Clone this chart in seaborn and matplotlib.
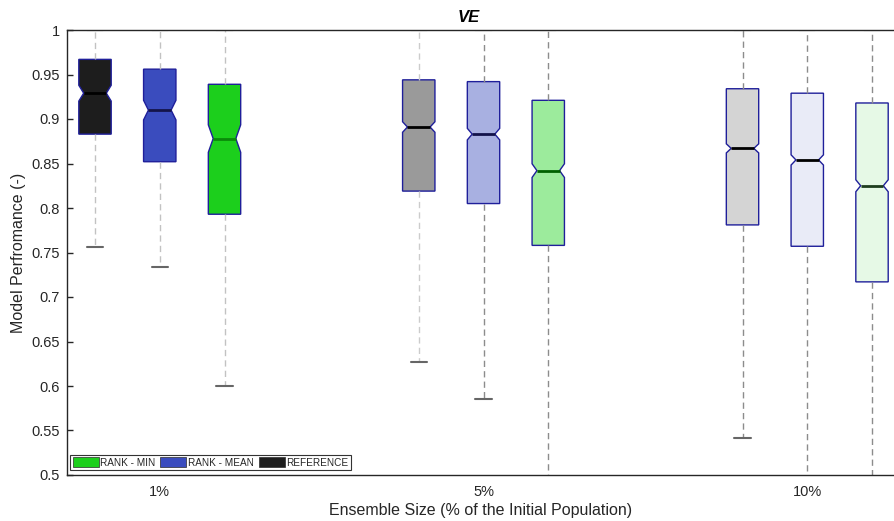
import numpy as np
import pandas as pd
import seaborn as sns
import matplotlib
matplotlib.use("Agg")
import matplotlib.pyplot as plt
from matplotlib.patches import Patch

# ---------------- data ----------------
groups = ["1%", "5%", "10%"]
methods = ["REFERENCE", "RANK - MEAN", "RANK - MIN"]
n_members = [220, 1100, 2200]          # ensemble sizes (drive notch widths)

ref_lo = [0.756, 0.627, 0.542]
ref_q1 = [0.883, 0.819, 0.781]
ref_med = [0.929, 0.891, 0.867]
ref_q3 = [0.967, 0.944, 0.934]
ref_hi = [1.0, 1.0, 1.0]

mean_lo = [0.734, 0.585, 0.45]
mean_q1 = [0.852, 0.805, 0.757]
mean_med = [0.910, 0.883, 0.854]
mean_q3 = [0.956, 0.942, 0.929]
mean_hi = [1.0, 1.0, 1.0]

min_lo = [0.600, 0.45, 0.45]
min_q1 = [0.793, 0.758, 0.717]
min_med = [0.878, 0.842, 0.825]
min_q3 = [0.939, 0.921, 0.918]
min_hi = [1.0, 1.0, 1.0]

y_ticks = [0.5, 0.55, 0.6, 0.65, 0.7, 0.75, 0.8, 0.85, 0.9, 0.95, 1.0]
y_tick_labels = ["0.5", "0.55", "0.6", "0.65", "0.7", "0.75", "0.8", "0.85", "0.9", "0.95", "1"]

# ---------------- styles ----------------
fills = {
    "REFERENCE": ["#1d1d1d", "#9a9a9a", "#d4d4d4"],
    "RANK - MEAN": ["#3a4cbe", "#a8b0e1", "#e9ebf7"],
    "RANK - MIN": ["#1ccf1c", "#9ceb9c", "#e6f9e6"],
}
med_colors = {
    "REFERENCE": ["#000000", "#000000", "#000000"],
    "RANK - MEAN": ["#14144a", "#12124a", "#000000"],
    "RANK - MIN": ["#0a8a0a", "#006000", "#1e3e1e"],
}
whisk_colors = {
    "REFERENCE": ["#c2c2c2", "#cccccc", "#8c8c8c"],
    "RANK - MEAN": ["#c2c2c2", "#8c8c8c", "#8c8c8c"],
    "RANK - MIN": ["#c2c2c2", "#8c8c8c", "#8c8c8c"],
}
edge_color = "#1f1f9a"

stats = {
    "REFERENCE": (ref_lo, ref_q1, ref_med, ref_q3, ref_hi),
    "RANK - MEAN": (mean_lo, mean_q1, mean_med, mean_q3, mean_hi),
    "RANK - MIN": (min_lo, min_q1, min_med, min_q3, min_hi),
}

# build per-box samples that reproduce the read five-number summaries
rows = []
for m in methods:
    lo, q1, md, q3, hi = stats[m]
    for gi, g in enumerate(groups):
        n = n_members[gi]
        k = (n - 2) // 3
        mid = n - 2 - 2 * k
        vals = [lo[gi]] + [q1[gi]] * k + [md[gi]] * mid + [q3[gi]] * k + [hi[gi]]
        rows += [(g, m, v) for v in vals]
df = pd.DataFrame(rows, columns=["group", "method", "value"])

sns.set_theme(style="white")
plt.rcParams["font.family"] = ["Liberation Sans", "DejaVu Sans"]

fig = plt.figure(figsize=(8.95, 5.21), dpi=100)
ax = fig.add_axes([67 / 895, 46 / 521, 828 / 895, 445 / 521])

box_w = 0.1
inset = 0.15 * box_w
for gi, g in enumerate(groups):
    for hi_idx, m in enumerate(methods):
        sub = df[(df.group == g) & (df.method == m)]
        nl = len(ax.lines)
        sns.boxplot(data=sub, x="group", y="value", hue="method",
                    order=groups, hue_order=methods,
                    palette={k: fills[m][gi] for k in methods},
                    saturation=1, dodge=True, width=0.6, gap=0.5,
                    whis=(0, 100), showfliers=False, shownotches=True,
                    linecolor=edge_color, linewidth=1.0, legend=False, ax=ax)
        pos = gi + (hi_idx - 1) * 0.2
        L, R = pos - box_w / 2, pos + box_w / 2
        patch = ax.patches[-1]
        verts = patch.get_path().vertices
        pattern = [L, R, R, R - inset, R, R, L, L, L + inset, L, L]
        xs = pattern + [L] * (len(verts) - len(pattern))
        verts[:, 0] = xs[:len(verts)]
        patch.set_edgecolor(edge_color)
        patch.set_linewidth(1.0)
        md = stats[m][2][gi]
        for ln in ax.lines[nl:]:
            xd = np.asarray(ln.get_xdata(), float)
            yd = np.asarray(ln.get_ydata(), float)
            if np.isclose(yd[0], yd[-1]) and not np.isclose(yd[0], stats[m][0][gi]) \
                    and not np.isclose(yd[0], stats[m][4][gi]) and np.isclose(yd[0], md):
                ln.set_xdata([L + inset, R - inset])
                ln.set_color(med_colors[m][gi])
                ln.set_linewidth(2.0)
                ln.set_solid_capstyle("butt")
            elif np.isclose(xd[0], xd[-1]) and not np.isclose(yd[0], yd[-1]):
                ln.set_xdata([pos, pos])
                ln.set_color(whisk_colors[m][gi])
                ln.set_linestyle((0, (4.5, 3)))
                ln.set_linewidth(1.0)
            else:
                ln.set_xdata([pos - 0.025, pos + 0.025])
                ln.set_color("#666666")
                ln.set_linewidth(1.5)

ax.set_xlim(-0.2865, 2.271)
ax.set_ylim(0.5, 1.0)
ax.set_yticks(y_ticks)
ax.set_yticklabels(y_tick_labels)
ax.set_xticks([0, 1, 2])
ax.set_xticklabels(groups)
ax.tick_params(axis="y", direction="in", length=4, width=1, colors="#262626",
               labelsize=10.5, pad=5, left=True)
ax.tick_params(axis="x", length=0, colors="#262626", labelsize=10.5, pad=7)

for side in ["left", "bottom", "top"]:
    ax.spines[side].set_visible(True)
    ax.spines[side].set_color("#262626")
    ax.spines[side].set_linewidth(1.0)
ax.spines["right"].set_visible(False)

ax.set_xlabel("Ensemble Size (% of the Initial Population)", fontsize=11.5,
              color="#262626", labelpad=3)
ax.set_ylabel("Model Perfromance (-)", fontsize=11.5, color="#262626", labelpad=4)
ax.set_title("VE", fontsize=12, fontweight="bold", fontstyle="italic",
             color="#000000", pad=6)
ax.title.set_position((0.4855, 1.0))

handles = [Patch(facecolor="#1ccf1c", edgecolor="#2a2a2a", linewidth=0.5),
           Patch(facecolor="#3a4cbe", edgecolor="#2a2a2a", linewidth=0.5),
           Patch(facecolor="#1d1d1d", edgecolor="#2a2a2a", linewidth=0.5)]
leg = ax.legend(handles, ["RANK - MIN", "RANK - MEAN", "REFERENCE"],
                loc="lower left", bbox_to_anchor=(3 / 828, 5 / 445),
                ncol=3, fontsize=7.2, frameon=True, fancybox=False,
                borderaxespad=0, borderpad=0.25, handlelength=2.6,
                handleheight=1.1, handletextpad=0.15, columnspacing=0.5)
leg.get_frame().set_edgecolor("#333333")
leg.get_frame().set_linewidth(0.8)
leg.get_frame().set_alpha(1)

fig.savefig("out.png", dpi=100)
